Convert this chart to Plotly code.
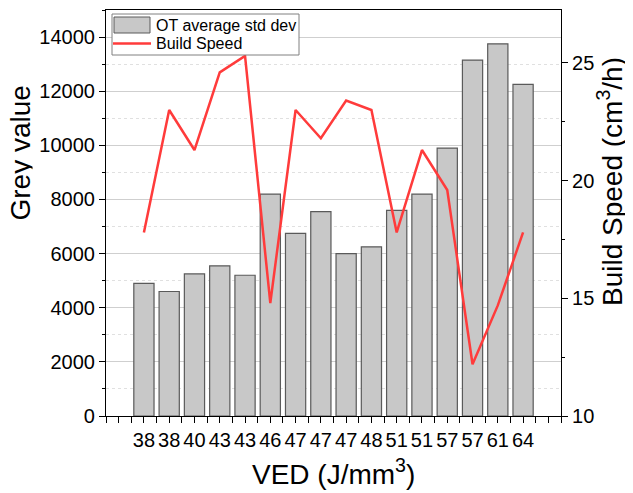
import plotly.graph_objects as go

ved_labels = ["38", "38", "40", "43", "43", "46", "47", "47", "47", "48",
              "51", "51", "57", "57", "61", "64"]
ot_std_dev = [4900, 4600, 5250, 5550, 5200, 8200, 6750, 7550, 6000, 6250,
              7600, 8200, 9900, 13150, 13750, 12250]
build_speed = [17.8, 23.0, 21.3, 24.6, 25.3, 14.8, 23.0, 21.8, 23.4, 23.0,
               17.8, 21.3, 19.6, 12.2, 14.7, 17.8]

idx = list(range(len(ved_labels)))
FONT = "Liberation Sans, Arial, sans-serif"
BAR_FILL = "#c8c8c8"
BAR_EDGE = "#5a5a5a"
LINE_RED = "#ff3b3b"

# The page has an 8px body margin; the figure is sized/placed to compensate.
W, H = 625, 485
ML, MR, MT, MB = 98, 72, 2, 77
PW, PH = W - ML - MR, H - MT - MB


def px(x):  # page pixel -> paper x
    return (x - 8 - ML) / PW


def py(y):  # page pixel -> paper y
    return (H - MB - (y - 8)) / PH


fig = go.Figure()
fig.add_trace(go.Bar(
    x=idx, y=ot_std_dev, name="OT average std dev", width=0.8,
    marker=dict(color=BAR_FILL, line=dict(color=BAR_EDGE, width=1.2)),
    showlegend=False,
))
fig.add_trace(go.Scatter(
    x=idx, y=build_speed, name="Build Speed", yaxis="y2", mode="lines",
    line=dict(color=LINE_RED, width=2.5), showlegend=False,
))

shapes = [
    # legend box
    dict(type="rect", xref="paper", yref="paper", x0=px(112), x1=px(299),
         y0=py(55), y1=py(14), fillcolor="white",
         line=dict(color="#808080", width=1), layer="above"),
    # bar swatch
    dict(type="rect", xref="paper", yref="paper", x0=px(114), x1=px(150),
         y0=py(33), y1=py(17), fillcolor=BAR_FILL,
         line=dict(color=BAR_EDGE, width=1), layer="above"),
    # line swatch
    dict(type="line", xref="paper", yref="paper", x0=px(113), x1=px(151),
         y0=py(43.5), y1=py(43.5), line=dict(color=LINE_RED, width=2.5),
         layer="above"),
]

annotations = [
    dict(text="OT average std dev", xref="paper", yref="paper", x=px(154),
         y=py(25.5), xanchor="left", yanchor="middle", showarrow=False,
         font=dict(size=16)),
    dict(text="Build Speed", xref="paper", yref="paper", x=px(154),
         y=py(43.5), xanchor="left", yanchor="middle", showarrow=False,
         font=dict(size=16)),
    dict(text="VED (J/mm<sup>3</sup>)", xref="paper", yref="paper",
         x=px(333), y=py(472), xanchor="center", yanchor="middle",
         showarrow=False, font=dict(size=28)),
    dict(text="Grey value", xref="paper", yref="paper", textangle=-90,
         x=px(20.5), y=py(153), xanchor="center", yanchor="middle",
         showarrow=False, font=dict(size=28), borderpad=0, height=24),
    dict(text="Build Speed (cm<sup>3</sup>/h)", xref="paper", yref="paper",
         textangle=-90, x=px(610), y=py(182), xanchor="center",
         yanchor="middle", showarrow=False, font=dict(size=28)),
]

fig.update_layout(
    width=W, height=H,
    margin=dict(l=ML, r=MR, t=MT, b=MB),
    paper_bgcolor="white", plot_bgcolor="white",
    font=dict(family=FONT, size=20, color="black"),
    showlegend=False,
    xaxis=dict(
        range=[-1.5, 16.5], tickmode="array", tickvals=idx, ticktext=ved_labels,
        ticks="outside", ticklen=6, tickwidth=1, tickcolor="black",
        showline=True, linecolor="black", linewidth=1.2, mirror=True,
        showgrid=False, zeroline=False, automargin=False,
        minor=dict(tickmode="linear", tick0=0, dtick=0.5, ticks="outside",
                   ticklen=6, tickcolor="black"),
    ),
    yaxis=dict(
        range=[0, 15000], tickmode="linear", tick0=0, dtick=2000, tickformat="d",
        ticks="outside", ticklen=6, tickcolor="black",
        showline=True, linecolor="black", linewidth=1.2, mirror=True,
        showgrid=True, gridcolor="#cfcfcf", gridwidth=1, zeroline=False,
        automargin=False,
        minor=dict(tickmode="linear", tick0=1000, dtick=2000, ticks="outside",
                   ticklen=3, tickcolor="black", showgrid=True,
                   gridcolor="#e0e0e0", griddash="dot", gridwidth=1),
    ),
    yaxis2=dict(
        overlaying="y", side="right", range=[10, 27.25],
        tickmode="linear", tick0=10, dtick=5,
        ticks="outside", ticklen=6, tickcolor="black",
        showline=True, linecolor="black", linewidth=1.2,
        showgrid=False, zeroline=False, automargin=False,
        minor=dict(tickmode="linear", tick0=12.5, dtick=5, ticks="outside",
                   ticklen=3, tickcolor="black"),
    ),
    bargap=0.2,
    shapes=shapes,
    annotations=annotations,
)

fig.write_html("out.html")
